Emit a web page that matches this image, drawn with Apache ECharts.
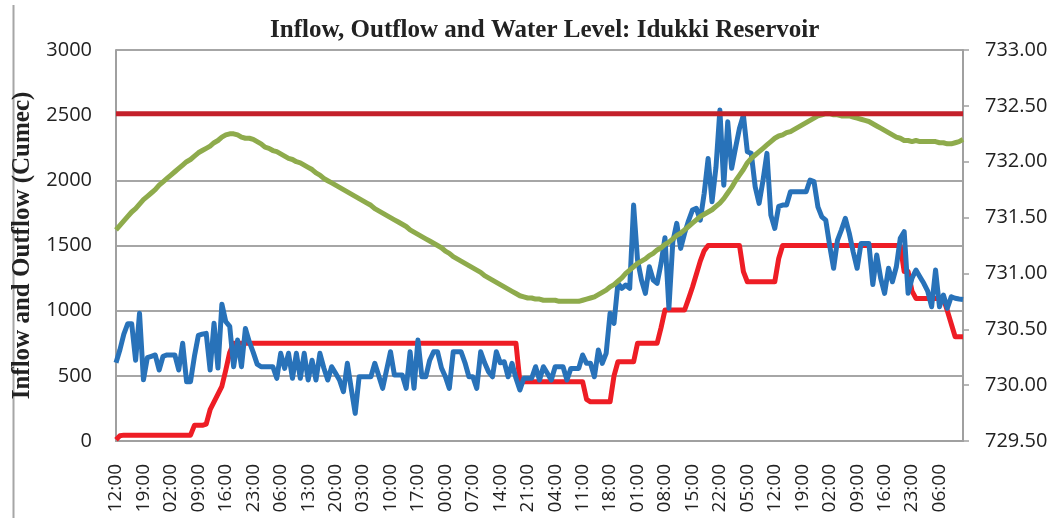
<!DOCTYPE html>
<html>
<head>
<meta charset="utf-8">
<script src="https://cdn.jsdelivr.net/npm/echarts@6/dist/echarts.min.js"></script>
<style>
  html, body { margin: 0; padding: 0; background: #fff; }
  #main { width: 1062px; height: 518px; }
</style>
</head>
<body>
<div id="main"></div>
<script>
// hourly readings, 12:00 on day 1 to 12:00 nine days later
let hours = []
for (let i = 0; i < 217; i++) {
    let h = (12 + i) % 24
    hours.push((h < 10 ? '0' : '') + h + ':00')
}

// inflow (cumec)
let inflow = [
    600, 700, 820, 900, 900, 620, 980, 470, 640, 650, 660, 545,
    650, 660, 660, 660, 545, 750, 455, 455, 650, 810, 820, 826,
    545, 903, 560, 1050, 915, 880, 570, 775, 570, 864, 760, 680,
    590, 570, 570, 570, 570, 481, 673, 557, 673, 481, 673, 481,
    673, 468, 620, 468, 673, 560, 468, 570, 520, 468, 378, 596,
    400, 212, 493, 493, 493, 493, 596, 500, 404, 545, 685, 506,
    506, 506, 404, 685, 404, 775, 493, 493, 620, 685, 685, 560,
    493, 404, 685, 685, 685, 600, 493, 493, 404, 685, 600, 532,
    493, 685, 600, 608, 493, 596, 481, 391, 481, 481, 481, 570,
    468, 570, 520, 468, 570, 570, 570, 468, 557, 557, 557, 660,
    596, 596, 493, 698, 596, 673, 980, 903, 1210, 1171, 1197, 1171,
    1810, 1388, 1235, 1133, 1337, 1235, 1210, 1363, 1560, 1018, 1529, 1670,
    1478, 1593, 1690, 1772, 1785, 1695, 1900, 2168, 1835, 2100, 2539, 1963,
    2449, 2092, 2250, 2400, 2500, 2219, 2207, 1951, 1823, 2000, 2207, 1733,
    1631, 1800, 1810, 1810, 1912, 1912, 1912, 1912, 1912, 2002, 1990, 1797,
    1720, 1695, 1500, 1325, 1542, 1620, 1708, 1593, 1450, 1325, 1516, 1516,
    1516, 1200, 1427, 1250, 1133, 1325, 1222, 1337, 1555, 1606, 1133, 1250,
    1312, 1260, 1210, 1150, 1030, 1312, 1030, 1120, 1018, 1107, 1095, 1089,
    1085
]

// outflow (cumec)
let outflow = [
    10, 40, 45, 45, 45, 45, 45, 45, 45, 45, 45, 45,
    45, 45, 45, 45, 45, 45, 45, 45, 120, 120, 120, 130,
    240, 300, 360, 420, 545, 680, 750, 750, 750, 750, 750, 750,
    750, 750, 750, 750, 750, 750, 750, 750, 750, 750, 750, 750,
    750, 750, 750, 750, 750, 750, 750, 750, 750, 750, 750, 750,
    750, 750, 750, 750, 750, 750, 750, 750, 750, 750, 750, 750,
    750, 750, 750, 750, 750, 750, 750, 750, 750, 750, 750, 750,
    750, 750, 750, 750, 750, 750, 750, 750, 750, 750, 750, 750,
    750, 750, 750, 750, 750, 750, 750, 455, 455, 455, 455, 455,
    455, 455, 455, 455, 455, 455, 455, 455, 455, 455, 455, 455,
    320, 301, 301, 301, 301, 301, 301, 500, 608, 608, 608, 608,
    608, 750, 750, 750, 750, 750, 750, 870, 1005, 1005, 1005, 1005,
    1005, 1005, 1090, 1180, 1280, 1380, 1460, 1500, 1500, 1500, 1500, 1500,
    1500, 1500, 1500, 1500, 1300, 1222, 1222, 1222, 1222, 1222, 1222, 1222,
    1222, 1400, 1500, 1500, 1500, 1500, 1500, 1500, 1500, 1500, 1500, 1500,
    1500, 1500, 1500, 1500, 1500, 1500, 1500, 1500, 1500, 1500, 1500, 1500,
    1500, 1500, 1500, 1500, 1500, 1500, 1500, 1500, 1500, 1300, 1300, 1150,
    1094, 1094, 1094, 1094, 1094, 1094, 1094, 1094, 1000, 900, 800, 800,
    800
]

// reservoir water level (m)
let level = [
    731.39, 731.43, 731.47, 731.51, 731.55, 731.58, 731.62, 731.66, 731.69, 731.72, 731.75,
    731.79, 731.82, 731.85, 731.88, 731.91, 731.94, 731.97, 732.00, 732.02, 732.05,
    732.08, 732.10, 732.12, 732.14, 732.17, 732.19, 732.22, 732.24, 732.25, 732.25,
    732.24, 732.22, 732.21, 732.21, 732.20, 732.18, 732.16, 732.13, 732.12, 732.10,
    732.09, 732.07, 732.05, 732.03, 732.02, 732.00, 731.99, 731.97, 731.95, 731.93,
    731.90, 731.88, 731.85, 731.83, 731.81, 731.79, 731.77, 731.75, 731.73, 731.71,
    731.69, 731.67, 731.65, 731.63, 731.61, 731.58, 731.56, 731.54, 731.52, 731.50,
    731.48, 731.46, 731.44, 731.42, 731.39, 731.37, 731.35, 731.33, 731.31, 731.29,
    731.27, 731.25, 731.23, 731.20, 731.18, 731.15, 731.13, 731.11, 731.09, 731.07,
    731.05, 731.03, 731.01, 730.98, 730.96, 730.94, 730.92, 730.90, 730.88, 730.86,
    730.84, 730.82, 730.80, 730.79, 730.78, 730.78, 730.77, 730.77, 730.76, 730.76,
    730.76, 730.76, 730.75, 730.75, 730.75, 730.75, 730.75, 730.75, 730.76, 730.77,
    730.78, 730.79, 730.81, 730.83, 730.85, 730.88, 730.90, 730.93, 730.96, 731.00,
    731.03, 731.06, 731.09, 731.11, 731.13, 731.16, 731.18, 731.21, 731.23, 731.26,
    731.28, 731.31, 731.34, 731.36, 731.39, 731.42, 731.45, 731.48, 731.51, 731.53,
    731.55, 731.57, 731.60, 731.63, 731.67, 731.72, 731.77, 731.83, 731.88, 731.93,
    731.99, 732.03, 732.06, 732.09, 732.12, 732.15, 732.18, 732.21, 732.23, 732.24,
    732.26, 732.27, 732.29, 732.31, 732.33, 732.35, 732.37, 732.39, 732.41, 732.42,
    732.43, 732.43, 732.42, 732.42, 732.41, 732.41, 732.41, 732.40, 732.39, 732.38,
    732.37, 732.36, 732.34, 732.32, 732.30, 732.28, 732.26, 732.24, 732.22, 732.21,
    732.19, 732.19, 732.18, 732.19, 732.18, 732.18, 732.18, 732.18, 732.18, 732.17,
    732.17, 732.16, 732.16, 732.17, 732.18, 732.20
]

// full reservoir level (m)
let frl = 732.43
let frlLine = hours.map(function () { return frl })

let leftTicks = { min: 0, max: 3000, interval: 500 }
let rightTicks = { min: 729.5, max: 733, interval: 0.5 }

let myChart = echarts.init(document.getElementById('main'))

let axisFont = {
    fontFamily: 'Open Sans',
    fontSize: 20,
    color: '#222'
}

let option = {
    animation: false,
    backgroundColor: '#fff',
    title: {
        text: 'Inflow, Outflow and Water Level: Idukki Reservoir',
        left: 265,
        top: 13,
        textStyle: {
            fontFamily: 'Liberation Serif',
            fontWeight: 'bold',
            fontSize: 25,
            color: '#222'
        }
    },
    graphic: [
        {
            type: 'line',
            shape: { x1: 13.5, y1: 5, x2: 13.5, y2: 518 },
            style: { stroke: '#a6a6a6', lineWidth: 2 }
        }
    ],
    grid: {
        left: 116,
        right: 99,
        top: 50,
        bottom: 77
    },
    xAxis: {
        type: 'category',
        data: hours,
        boundaryGap: false,
        axisLine: { lineStyle: { color: '#a0a0a0', width: 2 } },
        axisTick: { show: false },
        axisLabel: Object.assign({}, axisFont, {
            fontSize: 19,
            interval: 6,
            rotate: 90,
            margin: 23
        })
    },
    yAxis: [
        {
            type: 'value',
            min: leftTicks.min,
            max: leftTicks.max,
            interval: leftTicks.interval,
            name: 'Inflow and Outflow (Cumec)',
            nameLocation: 'middle',
            nameGap: 80,
            nameTextStyle: {
                fontFamily: 'Liberation Serif',
                fontWeight: 'bold',
                fontSize: 25,
                color: '#222'
            },
            axisLine: { show: true, lineStyle: { color: '#a0a0a0', width: 2 } },
            axisTick: { show: false },
            axisLabel: Object.assign({
                margin: 24,
                formatter: function (v) { return String(v) }
            }, axisFont),
            splitLine: { lineStyle: { color: '#a6a6a6', width: 2 } }
        },
        {
            type: 'value',
            min: rightTicks.min,
            max: rightTicks.max,
            interval: rightTicks.interval,
            position: 'right',
            axisLine: { show: true, lineStyle: { color: '#a0a0a0', width: 2 } },
            axisTick: { show: true, length: 6, lineStyle: { color: '#a0a0a0', width: 1.5 } },
            axisLabel: Object.assign({
                margin: 22,
                formatter: function (v) { return v.toFixed(2) }
            }, axisFont),
            splitLine: { show: false }
        }
    ],
    series: [
        {
            name: 'Outflow',
            type: 'line',
            data: outflow,
            yAxisIndex: 0,
            showSymbol: false,
            lineStyle: { color: '#ee1d25', width: 5, join: 'round' }
        },
        {
            name: 'Inflow',
            type: 'line',
            data: inflow,
            yAxisIndex: 0,
            showSymbol: false,
            lineStyle: { color: '#2872b9', width: 5, join: 'round' }
        },
        {
            name: 'Water Level',
            type: 'line',
            data: level,
            yAxisIndex: 1,
            showSymbol: false,
            lineStyle: { color: '#8eab4c', width: 5, join: 'round' }
        },
        {
            name: 'FRL',
            type: 'line',
            data: frlLine,
            yAxisIndex: 1,
            showSymbol: false,
            lineStyle: { color: '#c4202a', width: 5 }
        }
    ]
}

myChart.setOption(option)
</script>
</body>
</html>
